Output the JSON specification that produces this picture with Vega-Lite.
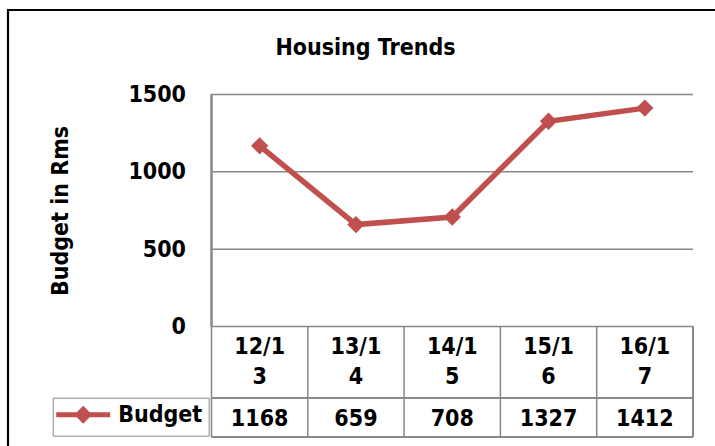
{
  "$schema": "https://vega.github.io/schema/vega-lite/v6.json",
  "width": 709,
  "height": 438,
  "autosize": {"type": "none"},
  "padding": {"left": 8, "top": 10, "right": -2, "bottom": -2},
  "background": "white",
  "config": {
    "view": {"stroke": "black", "strokeWidth": 2.2},
    "font": "DejaVu Sans Condensed"
  },
  "title": {
    "text": "Housing Trends",
    "font": "DejaVu Sans Condensed",
    "fontSize": 23,
    "fontWeight": "bold",
    "color": "black",
    "anchor": "middle",
    "frame": "group",
    "baseline": "alphabetic",
    "offset": -68,
    "dx": 3
  },
  "datasets": {
    "budget": [
      {"period": "12/13", "budget": 1168, "series": "Budget"},
      {"period": "13/14", "budget": 659, "series": "Budget"},
      {"period": "14/15", "budget": 708, "series": "Budget"},
      {"period": "15/16", "budget": 1327, "series": "Budget"},
      {"period": "16/17", "budget": 1412, "series": "Budget"}
    ],
    "gridlines": [
      {"value": 0}, {"value": 500}, {"value": 1000}, {"value": 1500}
    ]
  },
  "data": {"name": "budget"},
  "layer": [
    {
      "data": {"name": "gridlines"},
      "mark": {"type": "rule", "color": "#888888", "strokeWidth": 1.5},
      "encoding": {
        "y": {
          "field": "value",
          "type": "quantitative",
          "scale": {"domain": [-785.6, 2046.3], "nice": false, "zero": false},
          "axis": {
            "title": "Budget in Rms",
            "values": [0, 500, 1000, 1500],
            "format": "d",
            "grid": false,
            "domain": false,
            "ticks": false,
            "offset": -203.5,
            "labelPadding": 26,
            "labelFont": "DejaVu Sans Condensed",
            "labelFontSize": 23,
            "labelFontWeight": "bold",
            "labelColor": "black",
            "titleFont": "DejaVu Sans Condensed",
            "titleFontSize": 23,
            "titleFontWeight": "bold",
            "titleColor": "black",
            "titlePadding": 55,
            "titleY": 200.5
          }
        },
        "x": {
          "datum": "12/13",
          "type": "nominal",
          "bandPosition": 0,
          "scale": {
            "type": "band",
            "domain": ["12/13", "13/14", "14/15", "15/16", "16/17"],
            "range": [203.5, 685],
            "paddingInner": 0,
            "paddingOuter": 0
          },
          "axis": null
        },
        "x2": {"datum": "16/17", "bandPosition": 1}
      }
    },
    {
      "mark": {"type": "rule", "color": "#888888", "strokeWidth": 1.5},
      "encoding": {
        "y": {"datum": -460.3, "type": "quantitative"},
        "x": {"datum": "12/13", "type": "nominal", "bandPosition": 0, "axis": null},
        "x2": {"datum": "16/17", "bandPosition": 1}
      }
    },
    {
      "mark": {"type": "rule", "color": "#888888", "strokeWidth": 1.5},
      "encoding": {
        "y": {"datum": -712.5, "type": "quantitative"},
        "x": {"datum": "12/13", "type": "nominal", "bandPosition": 0, "axis": null},
        "x2": {"datum": "16/17", "bandPosition": 1}
      }
    },
    {
      "mark": {"type": "rule", "color": "#888888", "strokeWidth": 1.5},
      "encoding": {
        "x": {"field": "period", "type": "nominal", "bandPosition": 0, "axis": null},
        "y": {"datum": 0, "type": "quantitative"},
        "y2": {"datum": -712.5}
      }
    },
    {
      "mark": {"type": "rule", "color": "#888888", "strokeWidth": 1.5},
      "encoding": {
        "x": {"datum": "12/13", "type": "nominal", "bandPosition": 0, "axis": null},
        "y": {"datum": 1500, "type": "quantitative"},
        "y2": {"datum": 0}
      }
    },
    {
      "mark": {"type": "rule", "color": "#888888", "strokeWidth": 1.5},
      "encoding": {
        "x": {"datum": "16/17", "type": "nominal", "bandPosition": 1, "axis": null},
        "y": {"datum": 0, "type": "quantitative"},
        "y2": {"datum": -712.5}
      }
    },
    {
      "mark": {
        "type": "line",
        "strokeWidth": 5.5,
        "point": {"shape": "diamond", "size": 300, "filled": true}
      },
      "encoding": {
        "x": {"field": "period", "type": "nominal", "bandPosition": 0.5, "axis": null},
        "y": {"field": "budget", "type": "quantitative"},
        "color": {
          "field": "series",
          "type": "nominal",
          "scale": {"range": ["#c0504d"]},
          "legend": {
            "title": null,
            "orient": "none",
            "legendX": 44.7,
            "legendY": 387.7,
            "symbolType": "M-1.5,0H4.5M1.5,-0.6L2.1,0L1.5,0.6L0.9,0Z",
            "symbolSize": 324,
            "symbolStrokeColor": "#c0504d",
            "symbolFillColor": "#c0504d",
            "symbolStrokeWidth": 5,
            "labelFont": "DejaVu Sans Condensed",
            "labelFontSize": 23,
            "labelFontWeight": "bold",
            "labelColor": "black",
            "labelOffset": 37,
            "padding": 5.5,
            "strokeColor": "#888888"
          }
        }
      }
    },
    {
      "transform": [
        {"calculate": "[slice(datum.period, 0, 4), slice(datum.period, 4)]", "as": "lbl"}
      ],
      "mark": {
        "type": "text",
        "font": "DejaVu Sans Condensed",
        "fontSize": 23,
        "fontWeight": "bold",
        "color": "black",
        "lineHeight": 30,
        "baseline": "middle",
        "align": "center"
      },
      "encoding": {
        "x": {"field": "period", "type": "nominal", "bandPosition": 0.5, "axis": null},
        "y": {"datum": -132.5, "type": "quantitative"},
        "text": {"field": "lbl"}
      }
    },
    {
      "mark": {
        "type": "text",
        "font": "DejaVu Sans Condensed",
        "fontSize": 23,
        "fontWeight": "bold",
        "color": "black",
        "baseline": "middle",
        "align": "center"
      },
      "encoding": {
        "x": {"field": "period", "type": "nominal", "bandPosition": 0.5, "axis": null},
        "y": {"datum": -595, "type": "quantitative"},
        "text": {"field": "budget", "type": "quantitative"}
      }
    }
  ]
}
